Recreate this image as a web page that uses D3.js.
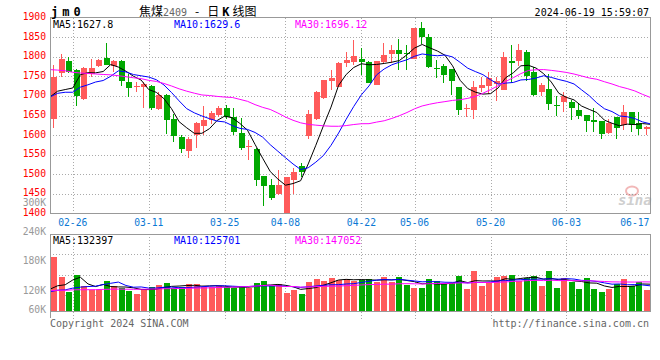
<!DOCTYPE html>
<html><head><meta charset="utf-8">
<script src="https://cdn.jsdelivr.net/npm/d3@7"></script>
<style>
html,body{margin:0;padding:0;background:#fff;}
svg{display:block;}
text{font-family:"DejaVu Sans Mono",monospace;}
</style></head><body>
<svg id="c" width="660" height="360"></svg>
<script>
const dates = ["02-21","02-22","02-23","02-26","02-27","02-28","02-29","03-01","03-04","03-05",
"03-06","03-07","03-08","03-11","03-12","03-13","03-14","03-15","03-18","03-19",
"03-20","03-21","03-22","03-25","03-26","03-27","03-28","03-29","04-01","04-02",
"04-03","04-08","04-09","04-10","04-11","04-12","04-15","04-16","04-17","04-18",
"04-19","04-22","04-23","04-24","04-25","04-26","04-29","04-30","05-06","05-07",
"05-08","05-09","05-10","05-13","05-14","05-15","05-16","05-17","05-20","05-21",
"05-22","05-23","05-24","05-27","05-28","05-29","05-30","05-31","06-03","06-04",
"06-05","06-06","06-07","06-11","06-12","06-13","06-14","06-17","06-18","06-19"];
const open  = [1641,1759,1789,1766,1692,1757,1777,1797,1776,1789,1736,1723,1723,1726,1666,1702,1641,1596,1560,1600,
1623,1639,1651,1668,1645,1606,1569,1564,1496,1473,1450,1401,1486,1520,1597,1640,1695,1738,1723,1784,
1787,1793,1787,1728,1787,1808,1817,1809,1795,1874,1850,1772,1777,1768,1722,1667,1665,1720,1726,1730,
1716,1789,1789,1813,1760,1711,1717,1677,1684,1685,1664,1651,1638,1636,1606,1645,1627,1658,1630,1615];
const high  = [1780,1806,1798,1768,1774,1793,1795,1835,1791,1791,1757,1736,1736,1729,1711,1705,1655,1600,1594,1634,
1674,1661,1675,1677,1668,1643,1587,1566,1496,1487,1511,1494,1515,1530,1664,1713,1741,1766,1787,1812,
1842,1822,1789,1789,1834,1829,1844,1831,1874,1889,1859,1791,1781,1768,1722,1679,1737,1749,1762,1747,
1813,1829,1832,1817,1773,1734,1756,1700,1709,1689,1681,1651,1668,1636,1640,1645,1676,1660,1659,1623];
const low   = [1619,1747,1759,1675,1690,1749,1774,1778,1760,1726,1698,1711,1668,1664,1664,1603,1583,1555,1541,1568,
1600,1628,1645,1642,1600,1563,1536,1471,1420,1435,1447,1400,1450,1494,1589,1638,1693,1715,1723,1774,
1778,1753,1732,1728,1783,1783,1766,1767,1795,1833,1770,1746,1734,1702,1651,1647,1641,1709,1705,1688,
1716,1734,1777,1739,1700,1700,1665,1650,1658,1638,1642,1609,1609,1589,1603,1589,1613,1609,1600,1600];
const close = [1747,1793,1761,1700,1770,1772,1791,1778,1789,1738,1719,1726,1730,1668,1702,1639,1598,1564,1590,1632,
1639,1657,1668,1647,1609,1568,1571,1486,1471,1439,1473,1492,1507,1507,1653,1711,1740,1746,1785,1791,
1801,1787,1733,1789,1804,1817,1808,1807,1874,1850,1774,1768,1753,1739,1665,1669,1722,1728,1745,1737,
1800,1785,1817,1751,1702,1728,1679,1673,1699,1670,1649,1637,1633,1602,1630,1617,1658,1627,1615,1621];
const volume = [272600,171700,95900,180100,124500,104300,104300,149800,126200,116100,
101000,84200,109400,121200,129600,141400,112800,117800,134600,134600,
121200,117800,124500,121200,112800,121200,112800,141400,149800,124500,
134600,90900,104300,84200,144700,159900,149800,166600,154800,159900,
149800,154800,159900,146400,170000,146400,170000,129600,116100,116100,
159900,149800,133000,139700,175000,111100,200300,124500,141400,168300,
175000,180100,149800,164900,175000,124500,200300,116100,164900,146400,
109400,164900,109400,94200,109400,136300,159900,124500,144700,104300];
// closes / volumes of the 29 sessions before the window (estimated from the MA lines)
const priorCloses = [1830,1812,1815,1825,1810,1828,1815,1818,1805,1795,1808,1795,1800,1785,1795,1790,1782,1770,1785,1775,
1700,1734,1700,1640,1712,1720,1740,1680,1600];
const priorVolumes = [110000,98000,105000,112000,100000,95000,108000,102000,99000,115000,104000,97000,106000,101000,108000,96000,103000,110000,99000,102000,
95000,80000,90000,75000,75000,85000,70000,60000,55000];
const priceTicks = [1900,1850,1800,1750,1700,1650,1600,1550,1500,1450,1400];
const volTicks = [300000,240000,180000,120000,60000];
const volTickLabels = ["300K","240K","180K","120K","60K"];
const dateTicks = ["02-26","03-11","03-25","04-08","04-22","05-06","05-20","06-03","06-17"];
const gridDates = ["02-26","03-11","03-25","04-08","04-22","05-06","05-20","06-03"];
const maPeriods = [5,10,30];
const maColors = ["#000000","#0000ff","#ff00ff"];
const priceMALabels = ["MA5:1627.8","MA10:1629.6","MA30:1696.12"];
const volMALabels = ["MA5:132397","MA10:125701","MA30:147052"];

const svg = d3.select("#c");
const L = 50, R = 650, PT = 17.5, PB = 213.5, VT = 234, VB = 311;
const UP = "#ff5a5a", DN = "#00a800", GRID = "#aaaaaa", FRAME = "#999999";

const xBand = d3.scaleBand().domain(dates).range([49.5, 649.5]);
const xPt = d3.scalePoint().domain(dates).range([L, R]);
const yP = d3.scaleLinear().domain([1400, 1900]).range([PB, PT]);
const yV = d3.scaleLinear().domain([0, 388850]).range([310.7, 233.7]);
const yVLab = d3.scaleLinear().domain([300000, 60000]).range([202.7, 319.1]);

const cx = d => Math.round(xBand(d) + xBand.bandwidth() / 2);
const rows = dates.map((d, i) => ({d, o: open[i], h: high[i], l: low[i], c: close[i], v: volume[i], up: close[i] >= open[i]}));

function movingAvg(prior, vals, n) {
  const all = prior.concat(vals), off = prior.length;
  return vals.map((_, i) => d3.mean(all.slice(off + i - n + 1, off + i + 1)));
}

const g = svg.append("g").attr("shape-rendering", "crispEdges");

g.selectAll(".hg").data(priceTicks.slice(1, -1)).join("line")
  .attr("x1", L).attr("x2", R).attr("y1", t => Math.round(yP(t)) + 0.5).attr("y2", t => Math.round(yP(t)) + 0.5)
  .attr("stroke", GRID).attr("stroke-dasharray", "1,2");
g.selectAll(".vg").data(gridDates).join("line")
  .attr("x1", d => Math.round(xPt(d)) + 0.5).attr("x2", d => Math.round(xPt(d)) + 0.5)
  .attr("y1", PT).attr("y2", PB + 2)
  .attr("stroke", GRID).attr("stroke-dasharray", "1,2");
const vGridY = [1, 2, 3].map(k => VT + k * (315 - VT) / 4);
g.selectAll(".vhg").data(vGridY).join("line")
  .attr("x1", L).attr("x2", R).attr("y1", y => Math.round(y) + 0.5).attr("y2", y => Math.round(y) + 0.5)
  .attr("stroke", GRID).attr("stroke-dasharray", "1,2");
g.selectAll(".vvg").data(gridDates).join("line")
  .attr("x1", d => Math.round(xPt(d)) + 0.5).attr("x2", d => Math.round(xPt(d)) + 0.5)
  .attr("y1", VT).attr("y2", 320)
  .attr("stroke", GRID).attr("stroke-dasharray", "1,2");

const cg = g.append("g");
cg.selectAll("line").data(rows).join("line")
  .attr("x1", r => cx(r.d) + 0.5).attr("x2", r => cx(r.d) + 0.5)
  .attr("y1", r => yP(r.h)).attr("y2", r => yP(r.l))
  .attr("stroke", r => r.up ? UP : DN);
cg.selectAll("rect").data(rows).join("rect")
  .attr("x", r => cx(r.d) - 2.5).attr("width", 6)
  .attr("y", r => yP(Math.max(r.o, r.c)))
  .attr("height", r => Math.max(1, Math.abs(yP(r.o) - yP(r.c))))
  .attr("fill", r => r.up ? UP : DN);

g.append("g").selectAll("rect").data(rows).join("rect")
  .attr("x", r => cx(r.d) - 2.5).attr("width", 6)
  .attr("y", r => yV(r.v)).attr("height", r => yV(0) - yV(r.v))
  .attr("fill", r => r.up ? UP : DN);

const lg = svg.append("g");
maPeriods.forEach((n, k) => {
  const m = movingAvg(priorCloses, close, n);
  lg.append("path").datum(m)
    .attr("d", d3.line().x((v, i) => xPt(dates[i])).y(v => yP(v)))
    .attr("fill", "none").attr("stroke", maColors[k]).attr("stroke-width", 1);
  const mv = movingAvg(priorVolumes, volume, n);
  lg.append("path").datum(mv)
    .attr("d", d3.line().x((v, i) => xPt(dates[i])).y(v => yV(v)))
    .attr("fill", "none").attr("stroke", maColors[k]).attr("stroke-width", 1);
});

const fg = svg.append("g").attr("shape-rendering", "crispEdges").attr("fill", "none").attr("stroke", FRAME);
fg.append("rect").attr("x", L + 0.5).attr("y", PT).attr("width", R - L).attr("height", PB - PT);
fg.append("rect").attr("x", L + 0.5).attr("y", VT + 0.5).attr("width", R - L).attr("height", VB - VT);
fg.append("line").attr("x1", L + 0.5).attr("x2", L + 0.5).attr("y1", VB).attr("y2", 318);

const tg = svg.append("g").attr("font-size", 9.7);
tg.selectAll(".pl").data(priceTicks).join("text")
  .attr("x", 46).attr("y", t => yP(t) + 2.5).attr("text-anchor", "end").attr("fill", "#ff0000").text(t => t);
tg.selectAll(".vl").data(volTicks).join("text")
  .attr("x", 46).attr("y", (v) => Math.min(yVLab(v), 309.5) + 3.5).attr("text-anchor", "end").attr("fill", "#999999")
  .text((v, i) => volTickLabels[i]);
tg.selectAll(".dl").data(dateTicks).join("text")
  .attr("x", d => xPt(d)).attr("y", 225.5).attr("text-anchor", "middle").attr("fill", "#0a78d4").text(d => d);

const maX = [53, 174, 295];
priceMALabels.forEach((t, k) => tg.append("text").attr("x", maX[k]).attr("y", 27.5).attr("font-size", 10).attr("fill", maColors[k]).text(t));
volMALabels.forEach((t, k) => tg.append("text").attr("x", maX[k]).attr("y", 243.5).attr("font-size", 10).attr("fill", maColors[k]).text(t));

svg.append("text").attr("x", 51).attr("y", 16).attr("font-size", 12).attr("font-weight", "bold")
  .attr("letter-spacing", 4).text("jm0");
const title = svg.append("text").attr("x", 139).attr("y", 16).attr("font-size", 12);
title.append("tspan").attr("font-family", "Noto Sans CJK SC").text("焦煤");
title.append("tspan").attr("font-size", 10).attr("fill", "#666").text("2409");
title.append("tspan").attr("font-family", "Noto Sans CJK SC").attr("dx", 8).text("-");
title.append("tspan").attr("font-family", "Noto Sans CJK SC").attr("dx", 8).text("日");
title.append("tspan").attr("font-weight", "bold").attr("dx", 3).text("K");
title.append("tspan").attr("font-family", "Noto Sans CJK SC").attr("dx", 3).text("线图");
svg.append("text").attr("x", 649).attr("y", 16).attr("font-size", 10).attr("text-anchor", "end").text("2024-06-19 15:59:07");

svg.append("text").attr("x", 50).attr("y", 327).attr("font-size", 10).attr("fill", "#666").text("Copyright 2024 SINA.COM");
svg.append("text").attr("x", 649).attr("y", 327).attr("font-size", 10).attr("fill", "#666").attr("text-anchor", "end").text("http://finance.sina.com.cn");

const wm = svg.append("g").attr("opacity", 0.4);
wm.append("ellipse").attr("cx", 632).attr("cy", 191).attr("rx", 6).attr("ry", 4.5).attr("fill", "none").attr("stroke", "#e05050").attr("stroke-width", 2);
wm.append("text").attr("x", 618).attr("y", 205).attr("font-family", "DejaVu Sans").attr("font-size", 14)
  .attr("font-weight", "bold").attr("font-style", "italic").attr("fill", "#888").text("sina");
</script>
</body></html>
